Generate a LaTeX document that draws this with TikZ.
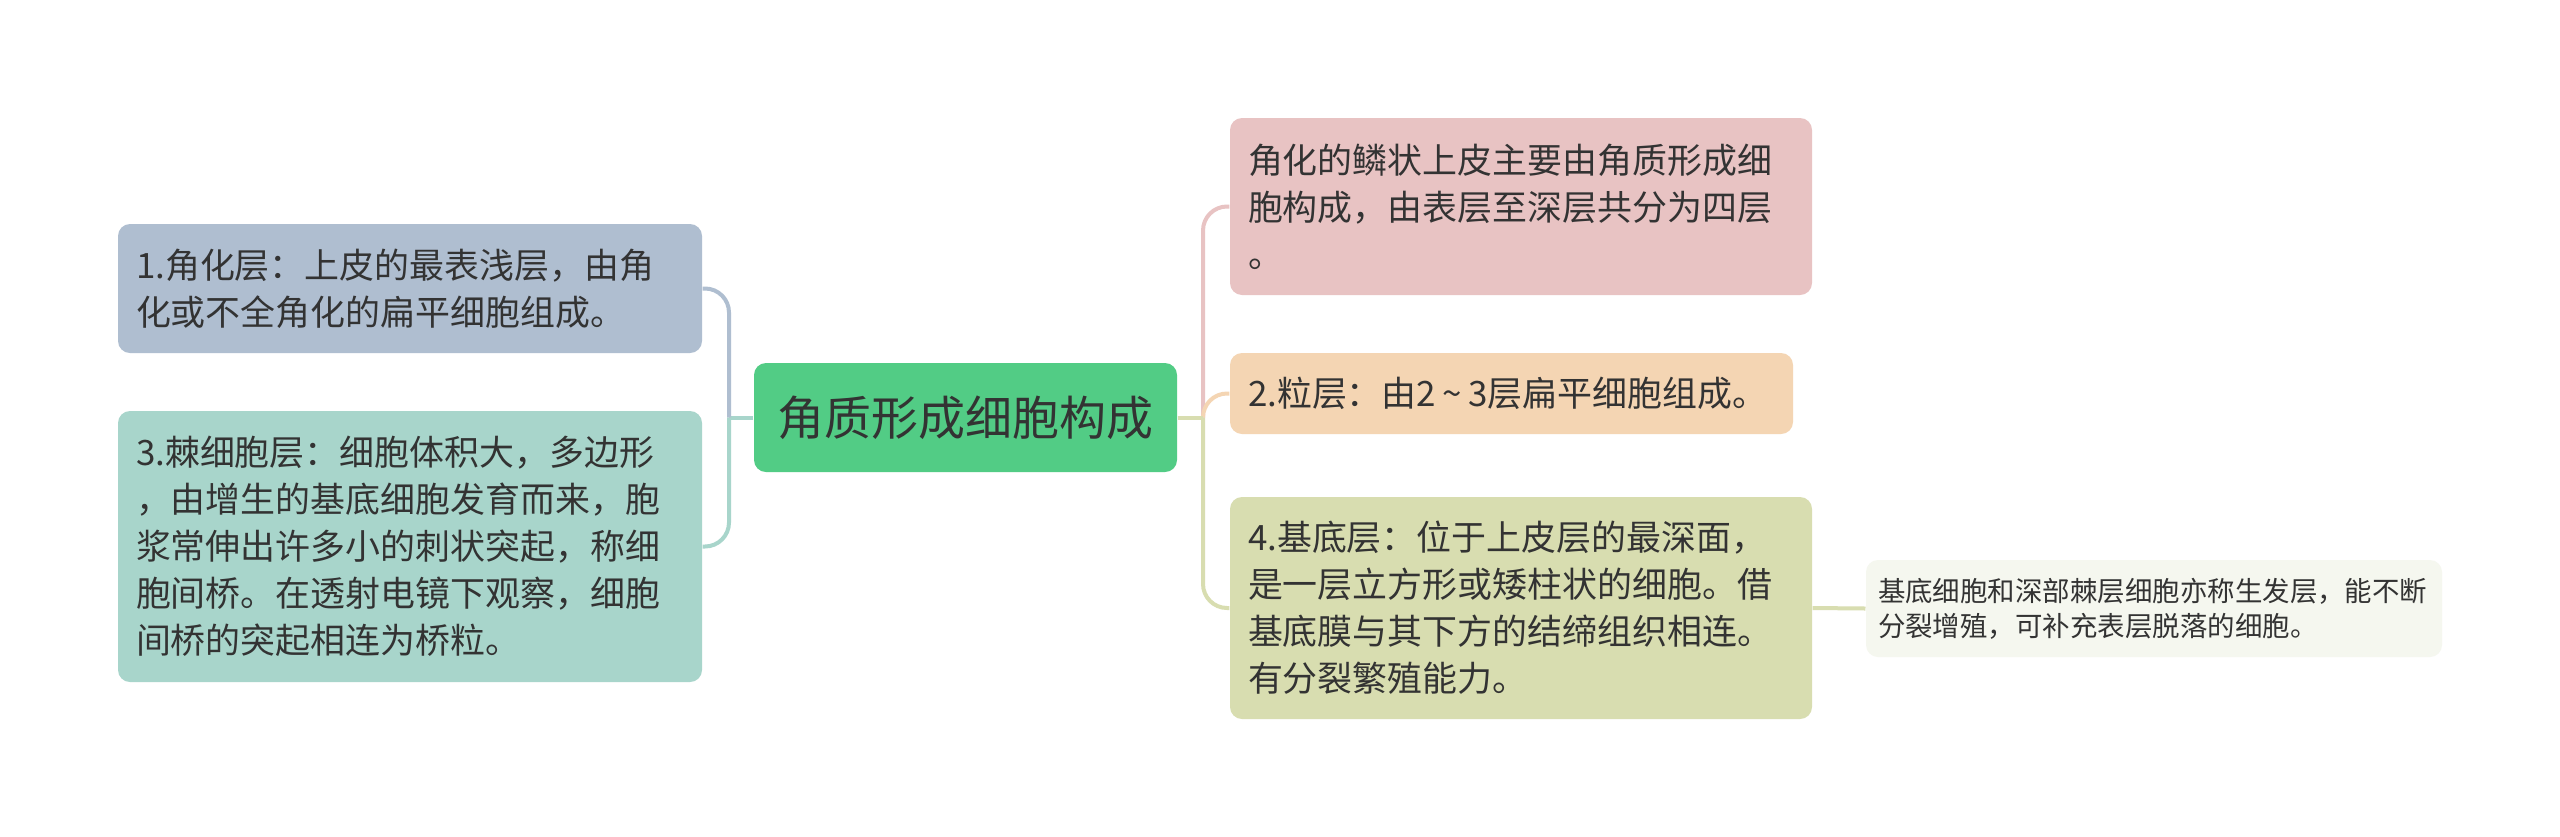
\documentclass[tikz,border=0pt]{standalone}
\usepackage{fontspec}
\setmainfont{Noto Sans CJK SC}
\definecolor{txt}{HTML}{333333}
\definecolor{cmain}{HTML}{52CC85}
\definecolor{cone}{HTML}{AFBED0}
\definecolor{cthree}{HTML}{A8D5CB}
\definecolor{cpink}{HTML}{E8C3C3}
\definecolor{corange}{HTML}{F4D5B3}
\definecolor{colive}{HTML}{D8DDB0}
\definecolor{cpale}{HTML}{F5F7EF}
\tikzset{
  box/.style={rounded corners=4.5pt, inner ysep=0pt, inner xsep=6.75pt, align=left, text=txt,
    font=\fontsize{13.1pt}{17.6pt}\selectfont},
  mainbox/.style={rounded corners=4.5pt, fill=cmain, text=txt, align=center,
    minimum width=158.625pt, minimum height=40.875pt, font=\fontsize{17.6pt}{21pt}\selectfont},
  link/.style={line width=1.5pt, rounded corners=9pt}
}
\begin{document}
\begin{tikzpicture}[x=0.375pt,y=-0.375pt]
\fill[white] (0,0) rectangle (2560,836);
\useasboundingbox (0,0) rectangle (2560,836);

\node[mainbox] (M) at (965.5,417.5) {角质形成细胞构成};

\node[box, fill=cone, minimum width=219pt, minimum height=48.375pt, text width=205.5pt] (L1) at (410,288.5)
  {1.角化层：上皮的最表浅层，由角\\化或不全角化的扁平细胞组成。};
\node[box, fill=cthree, minimum width=219pt, minimum height=101.625pt, text width=205.5pt] (L3) at (410,546.5)
  {3.棘细胞层：细胞体积大，多边形\\，由增生的基底细胞发育而来，胞\\浆常伸出许多小的刺状突起，称细\\胞间桥。在透射电镜下观察，细胞\\间桥的突起相连为桥粒。};

\node[box, fill=cpink, minimum width=218.25pt, minimum height=66.375pt, text width=204.75pt] (RA) at (1521,206.5)
  {角化的鳞状上皮主要由角质形成细\\胞构成，由表层至深层共分为四层\\。};
\node[box, fill=corange, minimum width=211.125pt, minimum height=30.375pt, text width=197.625pt] (RB) at (1511.5,393.5)
  {2.粒层：由2\hspace{0.18em}\char"7E\hspace{0.18em}3层扁平细胞组成。};
\node[box, fill=colive, minimum width=218.25pt, minimum height=83.25pt, text width=204.75pt] (RC) at (1521,608)
  {4.基底层：位于上皮层的最深面，\\是一层立方形或矮柱状的细胞。借\\基底膜与其下方的结缔组织相连。\\有分裂繁殖能力。};
\node[box, fill=cpale, inner xsep=4.5pt, minimum width=215.25pt, minimum height=36.375pt, text width=207pt,
  font=\fontsize{10.3pt}{13.1pt}\selectfont] (RD) at (2154,608.5)
  {基底细胞和深部棘层细胞亦称生发层，能不断\\分裂增殖，可补充表层脱落的细胞。};

\coordinate (jL) at (729,417.5);
\coordinate (jR) at (1203,417.5);

% left connectors
\draw[line width=1.5pt, cthree] (M.west) -- (jL);
\draw[link, cone] (jL) |- (L1.east);
\draw[link, cthree] (jL) |- (L3.east);

% right connectors
\draw[link, cpink] (jR) |- (RA.west);
\draw[link, corange] (jR) |- (RB.west);
\draw[link, colive] (jR) |- (RC.west);
\draw[line width=1.5pt, colive] (M.east) -- (jR);

\draw[line width=1.5pt, colive] (RC.east) -- (RD.west);
\end{tikzpicture}
\end{document}
